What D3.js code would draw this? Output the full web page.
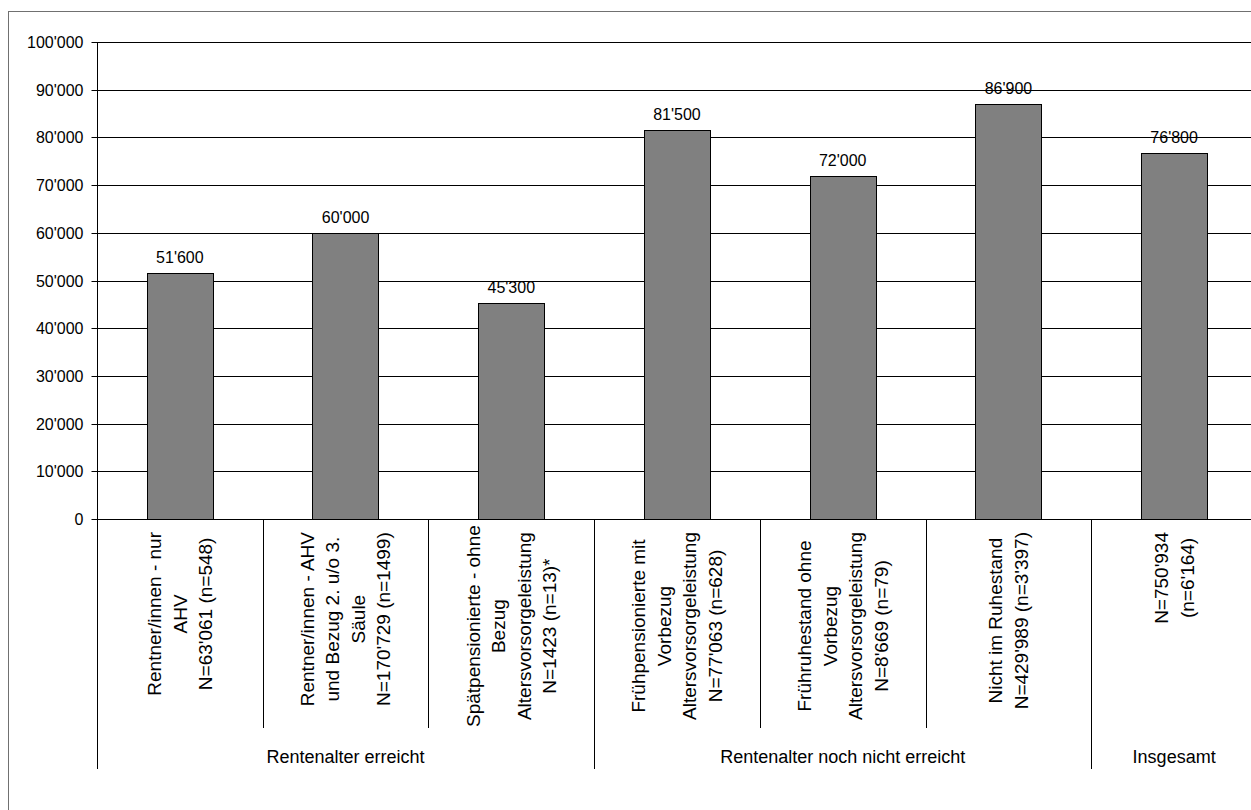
<!DOCTYPE html>
<html>
<head>
<meta charset="utf-8">
<script src="https://cdn.jsdelivr.net/npm/d3@7"></script>
<style>
  html, body { margin: 0; padding: 0; background: #fff; }
  svg { display: block; font-family: "Liberation Sans", Arial, sans-serif; }
</style>
</head>
<body>
<script>
// Category labels (line-broken as they are set under the axis)
const categoryLines = [
  ["Rentner/innen - nur", "AHV", "N=63'061 (n=548)"],
  ["Rentner/innen - AHV", "und Bezug 2. u/o 3.", "Säule", "N=170'729 (n=1499)"],
  ["Spätpensionierte - ohne", "Bezug", "Altersvorsorgeleistung", "N=1423 (n=13)*"],
  ["Frühpensionierte mit", "Vorbezug", "Altersvorsorgeleistung", "N=77'063 (n=628)"],
  ["Frühruhestand ohne", "Vorbezug", "Altersvorsorgeleistung", "N=8'669 (n=79)"],
  ["Nicht im Ruhestand", "N=429'989 (n=3'397)"],
  ["N=750'934", "(n=6'164)"]
];
const categories = categoryLines.map(l => l.join(" "));

// Median values per category
const values = [51600, 60000, 45300, 81500, 72000, 86900, 76800];

// Outer category groups: label and number of categories each spans
const groupNames = ["Rentenalter erreicht", "Rentenalter noch nicht erreicht", "Insgesamt"];
const groupSizes = [3, 3, 1];

// Y axis ticks
const yTicks = [0, 10000, 20000, 30000, 40000, 50000, 60000, 70000, 80000, 90000, 100000];

const W = 1251, H = 810;
const plot = { left: 97, right: 1257, top: 42, bottom: 519 };

const locale = d3.formatLocale({ decimal: ".", thousands: "'", grouping: [3], currency: ["", ""] });
const fmt = locale.format(",d");

const svg = d3.select("body").append("svg").attr("width", W).attr("height", H);
svg.append("rect").attr("width", W).attr("height", H).attr("fill", "#fff");

// Chart frame (runs past the right and bottom edges)
svg.append("rect")
  .attr("x", 8.5).attr("y", 11.5)
  .attr("width", W + 20).attr("height", H + 20)
  .attr("fill", "none").attr("stroke", "#707070").attr("stroke-width", 1);

const x = d3.scaleBand().domain(categories).range([plot.left, plot.right]).paddingInner(0).paddingOuter(0);
const y = d3.scaleLinear().domain([0, 100000]).range([plot.bottom, plot.top]);

// Gridlines
svg.append("g")
  .selectAll("line")
  .data(yTicks.filter(d => d > 0))
  .join("line")
  .attr("x1", plot.left).attr("x2", plot.right)
  .attr("y1", d => Math.round(y(d)) + 0.5).attr("y2", d => Math.round(y(d)) + 0.5)
  .attr("stroke", "#000").attr("stroke-width", 1);

// Y axis
const yAxis = d3.axisLeft(y).tickValues(yTicks).tickFormat(fmt).tickSize(6).tickPadding(8);
const gy = svg.append("g").attr("transform", `translate(${plot.left + 0.5},0.5)`).call(yAxis);
gy.select(".domain").attr("stroke", "#000").attr("d", `M0,${plot.top}V${plot.bottom}`);
gy.selectAll(".tick line").attr("stroke", "#000");
gy.selectAll(".tick text")
  .attr("fill", "#000")
  .style("font-size", "16px")
  .style("font-family", "'Liberation Sans', Arial, sans-serif");
gy.selectAll(".tick").attr("transform", d => `translate(0,${Math.round(y(d))})`);

// Bars
const barW = x.bandwidth() * 0.4;
svg.append("g")
  .selectAll("rect")
  .data(values)
  .join("rect")
  .attr("x", (d, i) => Math.round(x(categories[i]) + (x.bandwidth() - barW) / 2) + 0.5)
  .attr("y", d => Math.round(y(d)) + 0.5)
  .attr("width", Math.round(barW))
  .attr("height", d => Math.round(y(0)) - Math.round(y(d)))
  .attr("fill", "#808080")
  .attr("stroke", "#000")
  .attr("stroke-width", 1);

// Value labels
svg.append("g")
  .selectAll("text")
  .data(values)
  .join("text")
  .attr("x", (d, i) => x(categories[i]) + x.bandwidth() / 2)
  .attr("y", d => y(d) - 10)
  .attr("text-anchor", "middle")
  .attr("font-size", 16)
  .attr("fill", "#000")
  .text(d => fmt(d));

// X axis baseline
svg.append("line")
  .attr("x1", plot.left).attr("x2", plot.right)
  .attr("y1", plot.bottom + 0.5).attr("y2", plot.bottom + 0.5)
  .attr("stroke", "#000");

// Separators between categories and between groups
const groupStarts = [];
let acc = 0;
groupSizes.forEach(n => { groupStarts.push(acc); acc += n; });
const bounds = d3.range(categories.length + 1);
svg.append("g")
  .selectAll("line")
  .data(bounds)
  .join("line")
  .attr("x1", i => Math.round(i < categories.length ? x(categories[i]) : x(categories[i - 1]) + x.bandwidth()) + 0.5)
  .attr("x2", i => Math.round(i < categories.length ? x(categories[i]) : x(categories[i - 1]) + x.bandwidth()) + 0.5)
  .attr("y1", plot.bottom)
  .attr("y2", i => (groupStarts.includes(i) || i === categories.length) ? 769 : 728)
  .attr("stroke", "#000");

// Rotated category labels
const fs = 19, lineH = 25.5, topY = 532, bottomY = 727;
const catG = svg.append("g").attr("font-size", fs).attr("fill", "#000");
categoryLines.forEach((lines, i) => {
  const cx = x(categories[i]) + x.bandwidth() / 2;
  const g = catG.append("g");
  const texts = g.selectAll("text").data(lines).join("text")
    .attr("text-anchor", "middle")
    .text(d => d);
  const maxLen = d3.max(texts.nodes(), n => n.getComputedTextLength());
  const cy = Math.min(topY + maxLen / 2, bottomY - maxLen / 2);
  const n = lines.length;
  texts.attr("transform", (d, j) => {
    const lx = cx + (j - (n - 1) / 2) * lineH + fs * 0.35;
    return `translate(${lx},${cy}) rotate(-90)`;
  });
});

// Group labels
svg.append("g")
  .selectAll("text")
  .data(groupNames)
  .join("text")
  .attr("x", (d, i) => {
    const a = x(categories[groupStarts[i]]);
    const b = x(categories[groupStarts[i] + groupSizes[i] - 1]) + x.bandwidth();
    return (a + b) / 2;
  })
  .attr("y", 763)
  .attr("text-anchor", "middle")
  .attr("font-size", 18)
  .attr("fill", "#000")
  .text(d => d);
</script>
</body>
</html>
